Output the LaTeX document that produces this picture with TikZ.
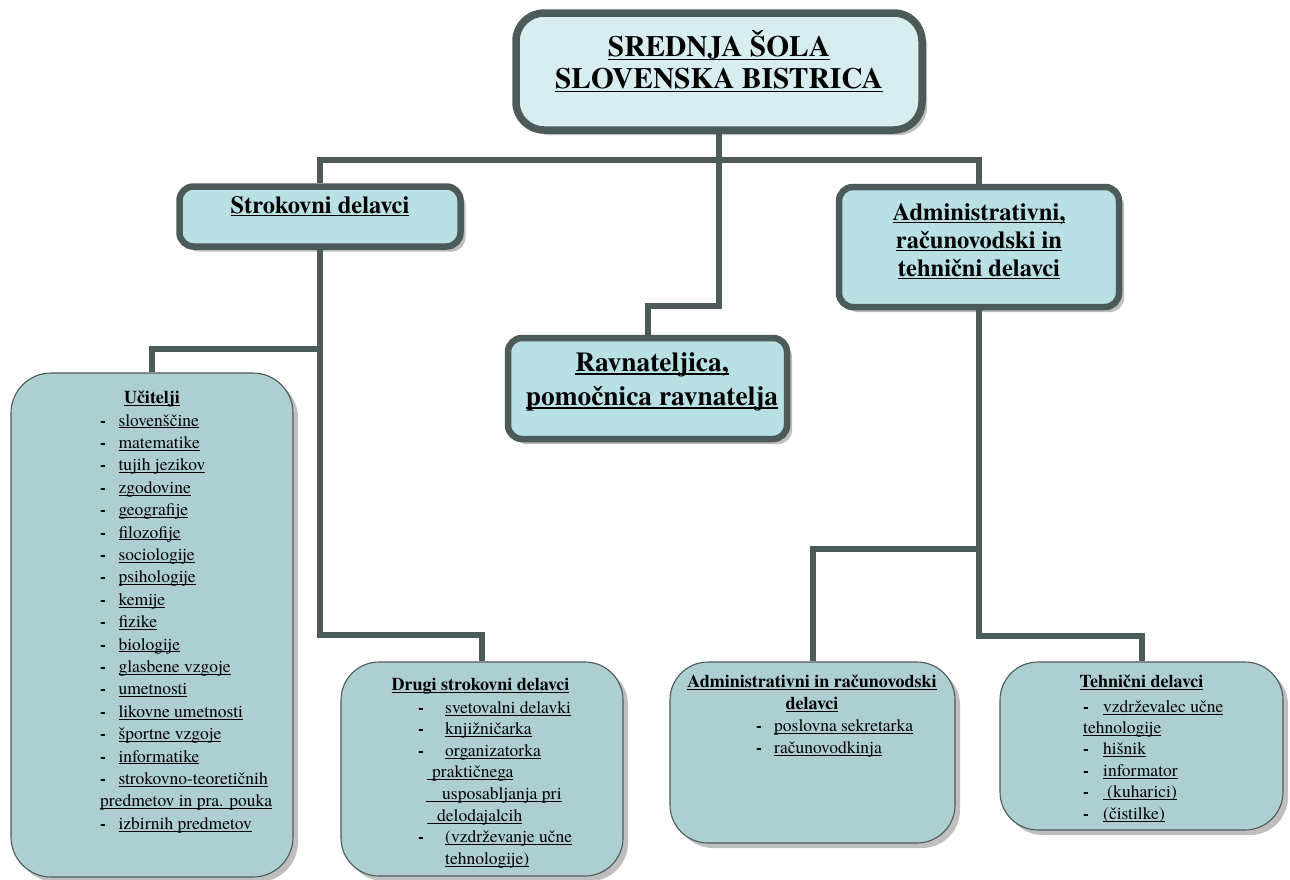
\documentclass[tikz,border=0pt]{standalone}
\usepackage{fontspec}
\setmainfont{texgyretermes}[Extension=.otf, UprightFont=*-regular, BoldFont=*-bold, ItalicFont=*-italic, BoldItalicFont=*-bolditalic]
\usetikzlibrary{shadows}

\definecolor{slate}{RGB}{76,90,90}
\definecolor{paleteal}{RGB}{216,237,240}
\definecolor{headteal}{RGB}{185,224,228}
\definecolor{boxteal}{RGB}{174,207,210}
\definecolor{shadowgray}{RGB}{190,190,190}

\newlength{\dashw}
\newcommand{\undl}[1]{\setbox0\hbox{#1}\rlap{\rule[-.14em]{\wd0}{.055em}}\box0}
\newcommand{\itm}[1]{\makebox[\dashw][l]{\textbf{-}}\undl{#1}}

\begin{document}
\begin{tikzpicture}[x=1pt,y=-1pt,
    conn/.style={draw=slate, line width=6pt, line join=miter},
    boxshadow/.style={drop shadow={shadow xshift=5pt, shadow yshift=-5pt, fill=shadowgray, opacity=1}},
    headbox/.style={draw=slate, line width=6.5pt, fill=headteal, rounded corners=14pt, boxshadow},
    listbox/.style={draw=slate, line width=1.1pt, fill=boxteal, rounded corners=38pt, boxshadow},
    headtext/.style={inner sep=0pt, anchor=base, font=\bfseries\fontsize{24.5}{28}\selectfont},
    listhead/.style={inner sep=0pt, anchor=base, font=\bfseries\fontsize{18}{22}\selectfont},
    listtext/.style={inner sep=0pt, anchor=base west, font=\fontsize{17.5}{22.4}\selectfont}]
    \useasboundingbox (0,0) rectangle (1290,879);

    % Header boxes
    \node[headbox, fill=paleteal, rounded corners=28pt, line width=7.5pt, minimum width=406pt, minimum height=117pt] (school) at (719,71.5) {};
    \node[headbox, minimum width=281pt, minimum height=60pt] (strok) at (320,216.5) {};
    \node[headbox, minimum width=280pt, minimum height=120pt] (admin) at (979,247) {};
    \node[headbox, minimum width=279pt, minimum height=101pt] (rav) at (647.5,388.5) {};

    % List boxes
    \node[listbox, rounded corners=40pt, minimum width=282pt, minimum height=504pt] (uc) at (152,625) {};
    \node[listbox, minimum width=282pt, minimum height=214pt] (drugi) at (482,769) {};
    \node[listbox, minimum width=285pt, minimum height=181pt] (arac) at (812.5,752.5) {};
    \node[listbox, minimum width=283pt, minimum height=168pt] (tehn) at (1141.5,746) {};

    % Connectors
    \coordinate (bus) at (719,160);
    \coordinate (ravjog) at (647.5,306);
    \coordinate (ucjog) at (320,349);
    \coordinate (drjog) at (482,635);
    \coordinate (arjog) at (979,549);
    \coordinate (tejog) at (1141.5,636);
    \draw[conn] (strok.north) |- (bus) -| (admin.north);
    \draw[conn] (school.south) |- (ravjog) -- (rav.north);
    \draw[conn] (strok.south) |- (drjog) -- (drugi.north);
    \draw[conn] (ucjog) -| (uc.north);
    \draw[conn] (admin.south) |- (tejog) -- (tehn.north);
    \draw[conn] (arjog) -| (arac.north);

    % Text Node
    \node[headtext, font=\bfseries\fontsize{29.4}{32}\selectfont] (schooltxt) at (719,56) {\begin{tabular}[t]{@{}c@{}}\undl{SREDNJA ŠOLA}\\\undl{SLOVENSKA BISTRICA}\end{tabular}};
    % Text Node
    \node[headtext] (stroktxt) at (320,213) {\undl{Strokovni delavci}};
    % Text Node
    \node[headtext] (admintxt) at (979,220) {\begin{tabular}[t]{@{}c@{}}\undl{Administrativni,}\\\undl{računovodski in}\\\undl{tehnični delavci}\end{tabular}};
    % Text Node
    \node[headtext, font=\bfseries\fontsize{27.4}{34}\selectfont] (ravtxt) at (652,371) {\begin{tabular}[t]{@{}c@{}}\undl{Ravnateljica,}\\\undl{pomočnica ravnatelja}\end{tabular}};

    % Text Node
    \node[listhead] (uchead) at (152,403) {\undl{Učitelji}};
    \node[listtext] (uclist) at (100,426) {\setlength{\dashw}{18.3pt}\begin{tabular}[t]{@{}l@{}}
        \itm{slovenščine}\\ \itm{matematike}\\ \itm{tujih jezikov}\\ \itm{zgodovine}\\
        \itm{geografije}\\ \itm{filozofije}\\ \itm{sociologije}\\ \itm{psihologije}\\
        \itm{kemije}\\ \itm{fizike}\\ \itm{biologije}\\ \itm{glasbene vzgoje}\\
        \itm{umetnosti}\\ \itm{likovne umetnosti}\\ \itm{športne vzgoje}\\ \itm{informatike}\\
        \itm{strokovno-teoretičnih}\\ \undl{predmetov in pra. pouka}\\ \itm{izbirnih predmetov}
    \end{tabular}};
    % Text Node
    \node[listhead] (drhead) at (480.5,690) {\undl{Drugi strokovni delavci}};
    \node[listtext, font=\fontsize{17.5}{21.6}\selectfont] (drlist) at (418,713) {\setlength{\dashw}{27pt}\begin{tabular}[t]{@{}l@{}}
        \itm{svetovalni delavki}\\ \itm{knjižničarka}\\ \itm{organizatorka}\\
        \hspace{9pt}\undl{\hspace{5pt}praktičnega}\\
        \hspace{8pt}\undl{\hspace{16pt}usposabljanja pri}\\
        \hspace{9pt}\undl{\hspace{10pt}delodajalcih}\\
        \itm{(vzdrževanje učne}\\ \hspace{27pt}\undl{tehnologije)}
    \end{tabular}};
    % Text Node
    \node[listhead] (arhead) at (812,687) {\begin{tabular}[t]{@{}c@{}}\undl{Administrativni in računovodski}\\\undl{delavci}\end{tabular}};
    \node[listtext, font=\fontsize{17.5}{22}\selectfont] (arlist) at (756,731) {\setlength{\dashw}{18pt}\begin{tabular}[t]{@{}l@{}}
        \itm{poslovna sekretarka}\\ \itm{računovodkinja}
    \end{tabular}};
    % Text Node
    \node[listhead] (tehead) at (1141.5,687) {\undl{Tehnični delavci}};
    \node[listtext, font=\fontsize{17.5}{21.4}\selectfont] (telist) at (1083,712) {\setlength{\dashw}{20pt}\begin{tabular}[t]{@{}l@{}}
        \itm{vzdrževalec učne}\\ \undl{tehnologije}\\ \itm{hišnik}\\ \itm{informator}\\
        \itm{\hspace{4pt}(kuharici)}\\ \itm{(čistilke)}
    \end{tabular}};
\end{tikzpicture}
\end{document}
